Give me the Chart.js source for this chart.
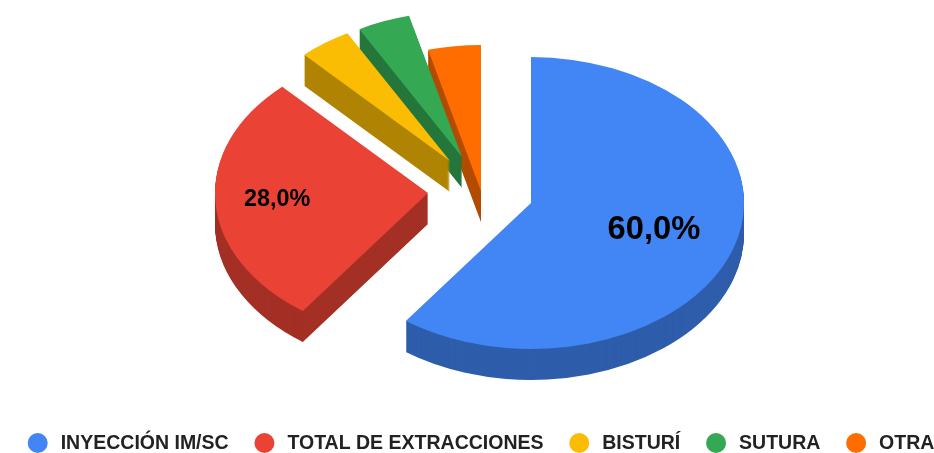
<!DOCTYPE html>
<html>
<head>
<meta charset="utf-8">
<style>
  html, body { margin: 0; padding: 0; background: #fff; }
  canvas { display: block; }
</style>
<script src="https://cdn.jsdelivr.net/npm/chart.js@4/dist/chart.umd.min.js"></script>
</head>
<body>
<canvas id="pie" width="934" height="453"></canvas>
<script>
const categories = ['INYECCIÓN IM/SC', 'TOTAL DE EXTRACCIONES', 'BISTURÍ', 'SUTURA', 'OTRA'];
const shares = [60, 28, 4, 4, 4];
const colors = ['#4285f4', '#ea4335', '#fbbc04', '#34a853', '#ff6d01'];
const wallColors = ['#2e5dab', '#a42f25', '#b08403', '#24763a', '#b34c01'];

// look of the tilted pie
const center = { x: 476, y: 191 };
const radiusX = 213;
const tilt = 0.685;
const depth = 31;
const explode = [[55, 12], [-48, 2], [-26, -30], [-14, -34], [5, 0]];
const drawOrder = [4, 3, 2, 1, 0];
const labelSpots = { 0: { at: 0.607, size: 32.7 }, 1: { at: 0.71, size: 23.4 } };

const fontFamily = '"Liberation Sans", Arial, sans-serif';

function drawSlice(ctx, el, i, scale, lift, fill) {
  const keep = el.options;
  el.options = Object.assign({}, keep, { backgroundColor: fill });
  ctx.save();
  ctx.translate(center.x + explode[i][0], center.y + explode[i][1] + lift);
  ctx.scale(scale, scale * tilt);
  ctx.translate(-el.x, -el.y);
  el.draw(ctx);
  ctx.restore();
  el.options = keep;
}

const tiltedPie = {
  id: 'tiltedPie',
  beforeDatasetsDraw(chart) {
    const ctx = chart.ctx;
    const arcs = chart.getDatasetMeta(0).data;
    drawOrder.forEach((i) => {
      const el = arcs[i];
      const scale = radiusX / el.outerRadius;
      for (let d = depth; d > 0; d--) {
        drawSlice(ctx, el, i, scale, d, wallColors[i]);
      }
      drawSlice(ctx, el, i, scale, 0, colors[i]);
    });
    return false;
  },
  afterDraw(chart) {
    const ctx = chart.ctx;
    const arcs = chart.getDatasetMeta(0).data;
    ctx.save();
    ctx.fillStyle = '#000';
    ctx.textAlign = 'center';
    ctx.textBaseline = 'middle';
    shares.forEach((v, i) => {
      const spot = labelSpots[i];
      if (!spot) return;
      const mid = (arcs[i].startAngle + arcs[i].endAngle) / 2;
      const x = center.x + explode[i][0] + Math.cos(mid) * radiusX * spot.at;
      const y = center.y + explode[i][1] + Math.sin(mid) * radiusX * tilt * spot.at;
      ctx.font = 'bold ' + spot.size + 'px ' + fontFamily;
      ctx.fillText(v.toFixed(1).replace('.', ',') + '%', x, y);
    });
    ctx.restore();
  }
};

const dotLegend = {
  id: 'dotLegend',
  afterDraw(chart) {
    const ctx = chart.ctx;
    let x = 27.7;
    const y = 443;
    ctx.save();
    ctx.font = 'bold 19.5px ' + fontFamily;
    ctx.textBaseline = 'middle';
    categories.forEach((name, i) => {
      ctx.fillStyle = colors[i];
      ctx.beginPath();
      ctx.arc(x + 10, y, 10, 0, Math.PI * 2);
      ctx.fill();
      ctx.fillStyle = '#222';
      ctx.fillText(name, x + 33, y + 1);
      x += 33 + ctx.measureText(name).width + 25.8;
    });
    ctx.restore();
  }
};

new Chart(document.getElementById('pie'), {
  type: 'pie',
  data: {
    labels: categories,
    datasets: [{ data: shares, backgroundColor: colors, borderWidth: 0 }]
  },
  options: {
    responsive: false,
    animation: false,
    plugins: {
      legend: { display: false },
      tooltip: { enabled: false }
    }
  },
  plugins: [tiltedPie, dotLegend]
});
</script>
</body>
</html>
